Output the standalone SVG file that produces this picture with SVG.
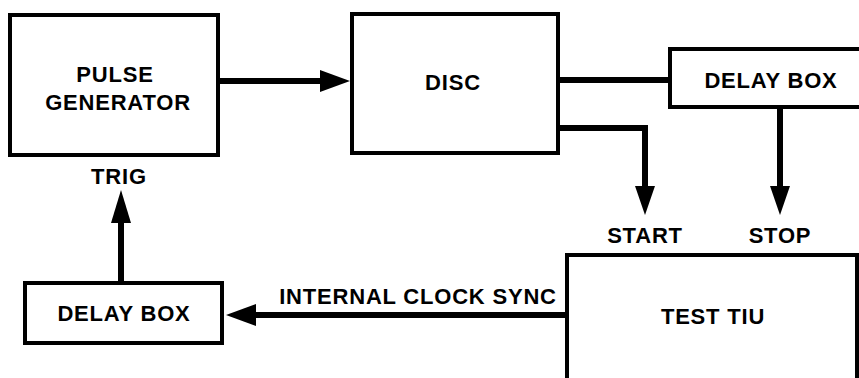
<svg xmlns="http://www.w3.org/2000/svg" width="859" height="378" viewBox="0 0 859 378">
<defs>
<style>
.box{fill:#fff;stroke:#000;stroke-width:4}
.ln{fill:none;stroke:#000;stroke-width:6}
.t{font-family:"Liberation Sans",Arial,sans-serif;font-weight:bold;font-size:22px;fill:#000;text-anchor:middle;letter-spacing:0.8px}
.ah{fill:#000}
</style>
</defs>
<rect width="859" height="378" fill="#fff"/>
<g id="connectors">
<line class="ln" x1="218" y1="81" x2="322" y2="81"/>
<polygon class="ah" points="350,81 320,70 320,92"/>
<line class="ln" x1="558" y1="80" x2="670" y2="80"/>
<polyline class="ln" points="558,128 645,128 645,188"/>
<polygon class="ah" points="645,215 635,186 655,186"/>
<line class="ln" x1="780" y1="107" x2="780" y2="188"/>
<polygon class="ah" points="780,215 770,186 790,186"/>
<line class="ln" x1="567" y1="315" x2="254" y2="315"/>
<polygon class="ah" points="226,315 256,304 256,326"/>
<line class="ln" x1="121" y1="283" x2="121" y2="220"/>
<polygon class="ah" points="121,190 111,223 131,223"/>
</g>
<g id="pulse-generator">
<rect class="box" x="10" y="15" width="208" height="140"/>
<text class="t" x="115" y="82">PULSE</text>
<text class="t" x="118" y="110">GENERATOR</text>
</g>
<g id="trig-label">
<text class="t" x="119" y="184">TRIG</text>
</g>
<g id="disc">
<rect class="box" x="352" y="14" width="206" height="139"/>
<text class="t" x="453" y="90">DISC</text>
</g>
<g id="delay-box-top">
<rect class="box" x="670" y="49" width="200" height="58"/>
<text class="t" x="771" y="88">DELAY BOX</text>
</g>
<g id="start-label">
<text class="t" x="645" y="243">START</text>
</g>
<g id="stop-label">
<text class="t" x="780" y="243">STOP</text>
</g>
<g id="test-tiu">
<rect class="box" x="567" y="255" width="290" height="140"/>
<text class="t" x="713" y="324">TEST TIU</text>
</g>
<g id="clock-sync-label">
<text class="t" x="418" y="304">INTERNAL CLOCK SYNC</text>
</g>
<g id="delay-box-bottom">
<rect class="box" x="25" y="283" width="197" height="60"/>
<text class="t" x="124" y="321">DELAY BOX</text>
</g>
</svg>
